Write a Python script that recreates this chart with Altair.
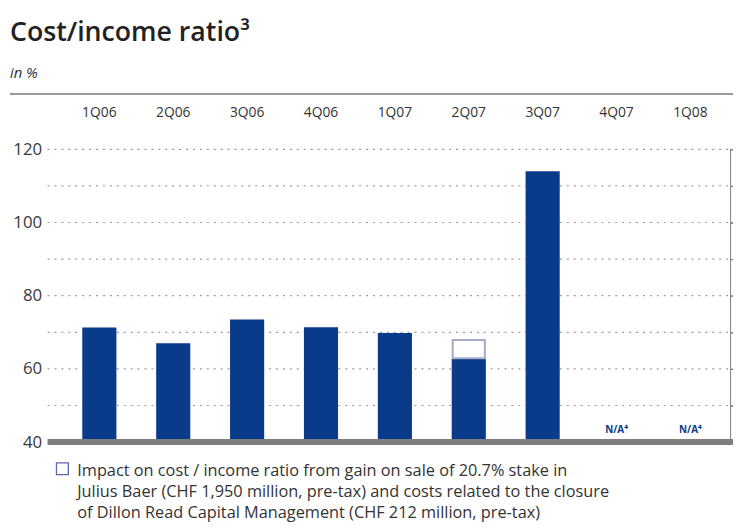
import altair as alt
import pandas as pd

quarters = ["1Q06", "2Q06", "3Q06", "4Q06", "1Q07", "2Q07", "3Q07", "4Q07", "1Q08"]
ratios = [71.3, 67.0, 73.5, 71.4, 69.8, 62.9, 114.0, None, None]
impact_top = {"2Q07": 67.9}
na_quarters = ["4Q07", "1Q08"]
y_ticks = [40, 60, 80, 100, 120]
grid_vals = [50, 60, 70, 80, 90, 100, 110, 120]
legend_lines = [
    "Impact on cost / income ratio from gain on sale of 20.7% stake in",
    "Julius Baer (CHF 1,950 million, pre-tax) and costs related to the closure",
    "of Dillon Read Capital Management (CHF 212 million, pre-tax)",
]

NAVY = "#0a3a8a"
FONT = "Open Sans"

bars_df = pd.DataFrame({"q": quarters, "v": ratios, "base": [40] * len(quarters)}).dropna()
imp_df = pd.DataFrame({"q": list(impact_top.keys()),
                       "lo": [r for q, r in zip(quarters, ratios) if q in impact_top],
                       "hi": list(impact_top.values())})
na_df = pd.DataFrame({"q": na_quarters, "v": [40] * len(na_quarters), "t": ["N/A⁴"] * len(na_quarters)})
grid_df = pd.DataFrame({"g": grid_vals})
leg_df = pd.DataFrame({"line": legend_lines, "i": list(range(len(legend_lines)))})

W, H = 690, 296
xscale = alt.Scale(domain=quarters, range=[15, 15 + 9 * 74.7], paddingInner=0, paddingOuter=0)
yscale = alt.Scale(domain=[40, 120], zero=False, nice=False)

x_axis = alt.Axis(orient="top", title=None, ticks=False, domain=False, labelPadding=30,
                  labelFont=FONT, labelFontSize=14, labelColor="#333333", labelAngle=0)
y_axis = alt.Axis(title=None, values=y_ticks, ticks=False, domain=False, grid=False,
                  labelPadding=6, labelFont=FONT, labelFontSize=17, labelColor="#3a3a3a")

grid = alt.Chart(grid_df).mark_rule(color="#9a9a9a", strokeDash=[2, 5], strokeWidth=1.2).encode(
    y=alt.Y("g:Q", scale=yscale, axis=y_axis), x=alt.value(0), x2=alt.value(W + 3)
)

bars = alt.Chart(bars_df).mark_bar(color=NAVY, size=34.5).encode(
    x=alt.X("q:N", scale=xscale, axis=x_axis, sort=quarters),
    y=alt.Y("v:Q", scale=yscale),
    y2="base:Q",
)

impact = alt.Chart(imp_df).mark_bar(fill="white", stroke="#a3abc9", strokeWidth=2, size=32.5).encode(
    x=alt.X("q:N", scale=xscale, sort=quarters),
    y=alt.Y("hi:Q", scale=yscale),
    y2="lo:Q",
)

na_text = alt.Chart(na_df).mark_text(color=NAVY, fontWeight="bold", font=FONT, fontSize=10,
                                     dy=-12, baseline="middle").encode(
    x=alt.X("q:N", scale=xscale, sort=quarters),
    y=alt.Y("v:Q", scale=yscale),
    text="t:N",
)

baseline = alt.Chart(grid_df.head(1)).mark_rule(color="#7f7f7f", strokeWidth=6).encode(
    x=alt.value(0), x2=alt.value(W + 3), y=alt.datum(40, scale=yscale)
)

header_line = alt.Chart(grid_df.head(1)).mark_rule(color="#9a9a9a", strokeWidth=2).encode(
    x=alt.value(-38), x2=alt.value(W + 3), y=alt.value(-56)
)

title = alt.Chart(grid_df.head(1)).mark_text(
    text="Cost/income ratio³", font=FONT, fontSize=27, fontWeight=600, color="#222222",
    align="left", baseline="alphabetic").encode(x=alt.value(-38), y=alt.value(-110))

subtitle = alt.Chart(grid_df.head(1)).mark_text(
    text="in %", font=FONT, fontSize=15, fontStyle="italic", color="#333333",
    align="left", baseline="alphabetic").encode(x=alt.value(-38), y=alt.value(-72))

leg_box = alt.Chart(grid_df.head(1)).mark_rect(fill="white", stroke="#5a68b0", strokeWidth=1.3).encode(
    x=alt.value(9), x2=alt.value(21), y=alt.value(H + 21), y2=alt.value(H + 33)
)

leg_text = alt.Chart(leg_df).mark_text(
    font=FONT, fontSize=16.5, color="#333333", align="left", baseline="middle").encode(
    x=alt.value(30),
    y=alt.Y("i:Q", scale=alt.Scale(domain=[0, 2], range=[H + 29, H + 29 + 2 * 21.5]), axis=None),
    text="line:N",
)

chart = alt.layer(grid, bars, impact, na_text, baseline, header_line, title, subtitle,
                  leg_box, leg_text).resolve_scale(y="independent").properties(
    width=W, height=H,
    autosize=alt.AutoSizeParams(type="none"),
    padding={"left": 40, "top": 140, "right": 3, "bottom": 84},
).configure_view(stroke=None)

chart.save("out.html", embed_options={"renderer": "svg", "actions": False})
